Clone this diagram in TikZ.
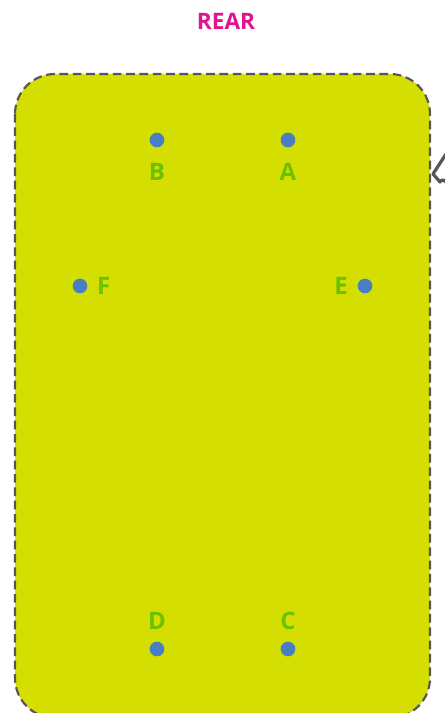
\documentclass[tikz,border=0pt]{standalone}
\usepackage{fontspec}
\setmainfont{Open Sans}
\usetikzlibrary{positioning}

\definecolor{padfill}{HTML}{D4DE00}
\definecolor{padline}{HTML}{55555A}
\definecolor{pinblue}{HTML}{4A7EC4}
\definecolor{taggreen}{HTML}{6CC000}
\definecolor{rearpink}{HTML}{E0148C}

\begin{document}
\begin{tikzpicture}[
    x=0.75pt, y=-0.75pt,
    pad/.style={draw=padline, fill=padfill, line width=1.6pt,
                dash pattern=on 6.5pt off 3.5pt, rounded corners=30pt},
    pin/.style={circle, fill=pinblue, inner sep=0pt, minimum size=11pt},
    tag/.style={text=taggreen, font=\fontsize{18}{18}\selectfont\bfseries, inner sep=0pt},
    heading/.style={text=rearpink, font=\fontsize{17}{17}\selectfont\bfseries, inner sep=0pt}
  ]
  \useasboundingbox (0,0) rectangle (444,713);
  \node[heading] (rear) at (226,21) {REAR};
  % pad outline
  \draw[pad] (15,74) rectangle (430,718);
  % pins
  \node[pin] (b) at (157,140) {};
  \node[pin] (a) at (288,140) {};
  \node[pin] (f) at (80,286) {};
  \node[pin] (e) at (365,286) {};
  \node[pin] (d) at (157,649) {};
  \node[pin] (c) at (288,649) {};
  % pin names
  \node[tag] at ([yshift=-24pt]b) {B};
  \node[tag] at ([yshift=-24pt]a) {A};
  \node[tag, right=7pt of f] {F};
  \node[tag, left=7pt of e] {E};
  \node[tag] at ([yshift=21pt]d) {D};
  \node[tag] at ([yshift=21pt]c) {C};
  % part of the neighbouring shape
  \draw[padline, line width=2.4pt, line join=round]
    (446,154) -- (433,174) -- (440,182)
    arc[start angle=200, end angle=340, radius=3];
\end{tikzpicture}
\end{document}
